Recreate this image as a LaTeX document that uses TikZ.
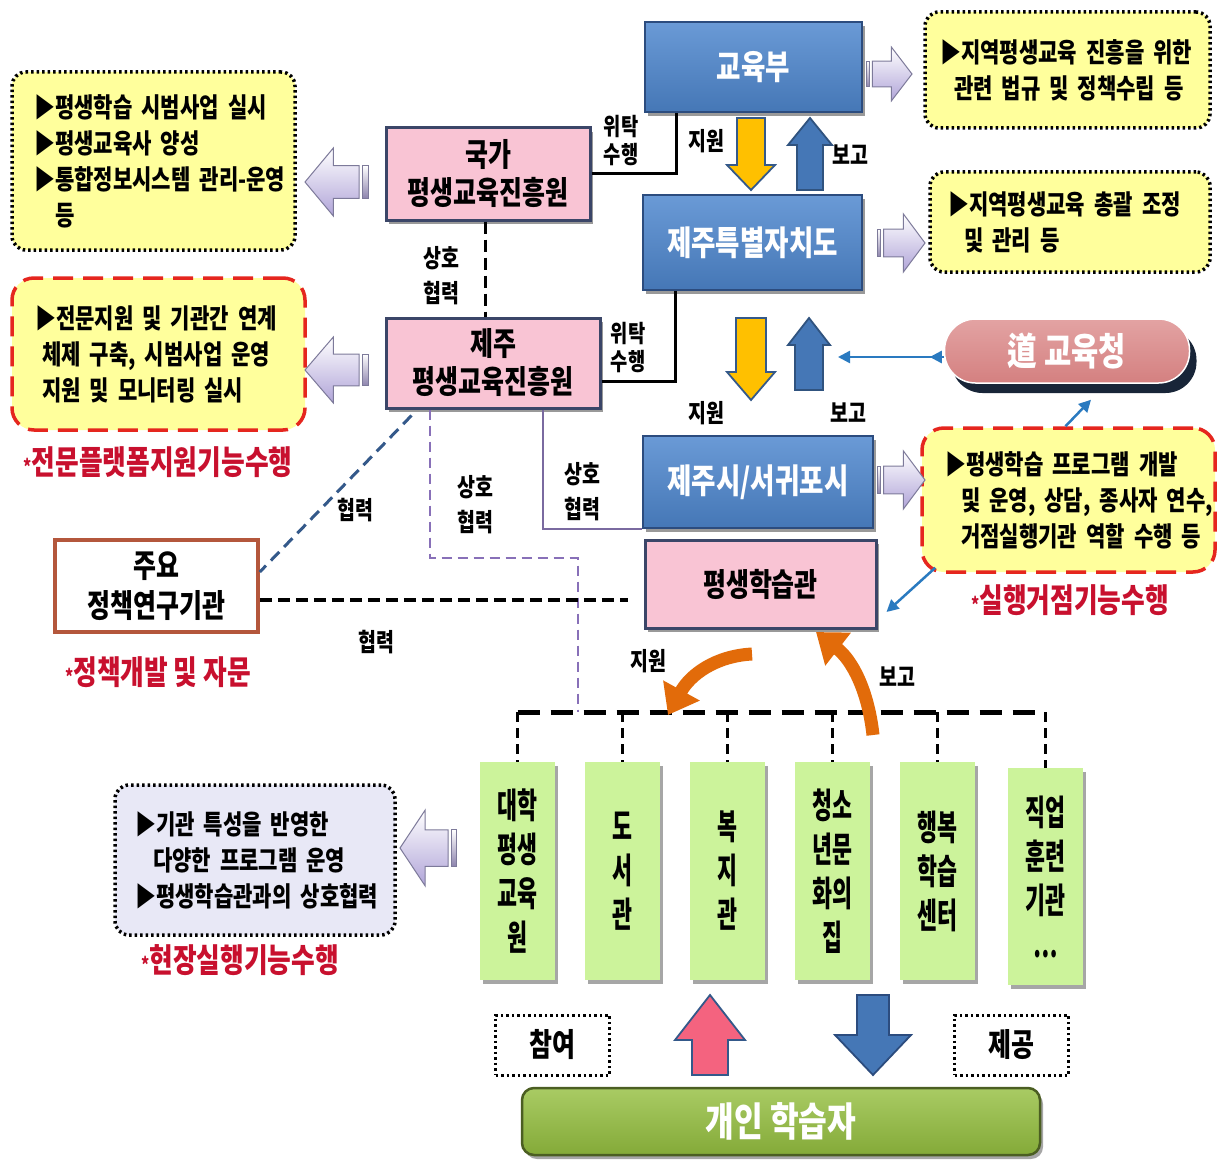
\documentclass[tikz,border=0pt]{standalone}
\usepackage{fontspec}
\newfontfamily\kr[FakeStretch=0.78]{Noto Sans CJK KR}
\newfontfamily\krc[FakeStretch=0.62]{Noto Sans CJK KR}
\usetikzlibrary{shadows,arrows.meta,calc,backgrounds}
\definecolor{bblue}{HTML}{4577B6}
\definecolor{bbluetop}{HTML}{6A9AD6}
\definecolor{bblued}{HTML}{2C4C7E}
\definecolor{pinkf}{HTML}{F9C4D4}
\definecolor{pinkd}{HTML}{3B4668}
\definecolor{yelf}{HTML}{FFFF9C}
\definecolor{redd}{HTML}{E5261E}
\definecolor{redt}{HTML}{C8102E}
\definecolor{grnf}{HTML}{CCF39B}
\definecolor{grnbar}{HTML}{84AA38}
\definecolor{grnbartop}{HTML}{A9CB64}
\definecolor{grnbard}{HTML}{4B5E22}
\definecolor{lavf}{HTML}{E8E8F6}
\definecolor{lavarr}{HTML}{B0A4D8}
\definecolor{lavd}{HTML}{7D7A9A}
\definecolor{edu}{HTML}{D48080}
\definecolor{edutop}{HTML}{E3A3A3}
\definecolor{edush}{HTML}{182538}
\definecolor{orng}{HTML}{E26B0A}
\definecolor{purp}{HTML}{8870B8}
\definecolor{purps}{HTML}{7A6AA0}
\definecolor{dblue}{HTML}{34598A}
\definecolor{tblue}{HTML}{2A7AC0}
\definecolor{yarr}{HTML}{FFC000}
\definecolor{parr}{HTML}{F4637F}
\definecolor{brn}{HTML}{B4573C}
\newcommand\fs[2]{\fontsize{#1}{#2}\selectfont}
% vertical block arrow: cx, ytail, ybase, ytip, shaft half, head half, fill, draw
\newcommand\vblk[8]{%
  \filldraw[fill=#7,draw=#8,line width=1.8pt,line join=miter]
    (#1-#5,#2) -- (#1-#5,#3) -- (#1-#6,#3) -- (#1,#4) -- (#1+#6,#3) -- (#1+#5,#3) -- (#1+#5,#2) -- cycle;}
% lavender striped block arrow: tip x, centre y, direction, length, half height
\newcommand\lavarrow[5]{%
  \begin{scope}[shift={(#1,#2)},xscale=#3]
    \shade[top color=white,bottom color=lavarr,draw=lavd,line width=1pt]
      (0,0) -- (-0.45*#4,-#5) -- (-0.45*#4,-0.48*#5) -- (-0.86*#4,-0.48*#5)
      -- (-0.86*#4,0.48*#5) -- (-0.45*#4,0.48*#5) -- (-0.45*#4,#5) -- cycle;
    \shade[top color=white,bottom color=lavarr!80!black,draw=lavd,line width=1pt]
      (-0.92*#4,-0.48*#5) rectangle (-#4,0.48*#5);
  \end{scope}}
\tikzset{
  bluebox/.style={draw=bblued, line width=2pt, top color=bbluetop, bottom color=bblue,
    text=white, font=\kr\bfseries\fs{34}{38}, inner sep=0pt,
    drop shadow={shadow xshift=3pt,shadow yshift=-4pt,opacity=0.4,fill=black}},
  pinkbox/.style={draw=pinkd, line width=3pt, fill=pinkf, align=center, inner sep=0pt,
    font=\kr\bfseries\fs{32}{38},
    drop shadow={shadow xshift=3pt,shadow yshift=-4pt,opacity=0.4,fill=black}},
  yelbox/.style={draw=black, line width=3.5pt, dash pattern=on 2.5pt off 3pt, fill=yelf,
    rounded corners=14pt, align=left, font=\kr\bfseries\fs{27}{36}},
  redbox/.style={draw=redd, line width=3.5pt, dash pattern=on 20pt off 10pt, fill=yelf,
    rounded corners=22pt, align=left, font=\kr\bfseries\fs{27}{36}},
  lavbox/.style={draw=black, line width=3.5pt, dash pattern=on 2.5pt off 3pt, fill=lavf,
    rounded corners=14pt, align=left, font=\kr\bfseries\fs{27}{36}},
  greenbox/.style={fill=grnf, minimum width=75pt, inner sep=0pt, align=center,
    font=\krc\bfseries\fs{35}{44},
    drop shadow={shadow xshift=3pt,shadow yshift=-4pt,opacity=0.35,fill=black}},
  tagbox/.style={draw=black, line width=3pt, dash pattern=on 2.5pt off 3pt,
    minimum width=114pt, minimum height=60pt, font=\kr\bfseries\fs{32}{34}},
  lbl/.style={font=\kr\bfseries\fs{25}{35}, align=center, inner sep=0pt},
  lbls/.style={font=\kr\bfseries\fs{24}{28}, align=center, inner sep=0pt},
  redlbl/.style={font=\kr\bfseries\fs{33}{36}, text=redt, inner sep=0pt},
  conn/.style={line width=3pt},
  bluetip/.style={tblue, line width=2.5pt},
}
\begin{document}
\begin{tikzpicture}[x=1pt,y=-1pt]
\useasboundingbox[fill=white] (0,0) rectangle (1222,1161);

% ---------- main boxes ----------
\node[bluebox, minimum width=217pt, minimum height=90pt] (gyb) at (753.5,67) {교육부};
\node[bluebox, minimum width=219pt, minimum height=95pt] (jdo) at (752.5,242.5) {제주특별자치도};
\node[bluebox, minimum width=230pt, minimum height=92pt] (jsi) at (758,482) {제주시/서귀포시};
\node[pinkbox, minimum width=231pt, minimum height=88pt, font=\kr\bfseries\fs{32}{36}] (pgh) at (760.5,584) {평생학습관};
\node[pinkbox, minimum width=204pt, minimum height=92pt] (nat) at (488,174) {국가\\평생교육진흥원};
\node[pinkbox, minimum width=214pt, minimum height=90pt] (jej) at (493,363) {제주\\평생교육진흥원};

\node[fill=edu, top color=edutop, bottom color=edu, draw=white, line width=1.5pt,
      rounded corners=31pt, minimum width=245pt, minimum height=64pt, text=white,
      font=\kr\bfseries\fs{38}{40},
      drop shadow={shadow xshift=7pt,shadow yshift=-10pt,opacity=1,fill=edush}] (doe) at (1067,351) {道 교육청};

% ---------- description boxes ----------
\node[yelbox, minimum width=285pt, minimum height=116pt, text width=255pt, inner xsep=15pt] (box1) at (1067.5,70)
  {\mbox{▶지역평생교육 진흥을 위한}\\\mbox{\hspace{14pt}관련 법규 및 정책수립 등}};
\node[yelbox, minimum width=280pt, minimum height=100pt, text width=244pt, inner xsep=18pt] (box2) at (1070,222)
  {\mbox{▶지역평생교육 총괄 조정}\\\mbox{\hspace{16pt}및 관리 등}};
\node[yelbox, minimum width=283pt, minimum height=178pt, text width=239pt, inner xsep=22pt] (box3) at (153.5,161)
  {\mbox{▶평생학습 시범사업 실시}\\\mbox{▶평생교육사 양성}\\\mbox{▶통합정보시스템 관리-운영}\\\mbox{\phantom{▶}등}};
\node[redbox, minimum width=293pt, minimum height=152pt, text width=247pt, inner xsep=23pt] (box4) at (158.5,354)
  {\mbox{▶전문지원 및 기관간 연계}\\\mbox{\hspace{7pt}체제 구축, 시범사업 운영}\\\mbox{\hspace{7pt}지원 및 모니터링 실시}};
\node[redbox, minimum width=293pt, minimum height=144pt, text width=247pt, inner xsep=23pt] (box5) at (1068.5,500)
  {\mbox{▶평생학습 프로그램 개발}\\\mbox{\hspace{16pt}및 운영, 상담, 종사자 연수,}\\\mbox{\hspace{16pt}거점실행기관 역할 수행 등}};
\node[lavbox, minimum width=280pt, minimum height=150pt, text width=240pt, inner xsep=20pt] (box6) at (255,860)
  {\mbox{▶기관 특성을 반영한}\\\mbox{\hspace{18pt}다양한 프로그램 운영}\\\mbox{▶평생학습관과의 상호협력}};

\node[draw=brn, line width=3.5pt, fill=white, minimum width=203pt, minimum height=92pt,
      align=center, font=\kr\bfseries\fs{32}{40}] (ris) at (156.5,586) {주요\\정책연구기관};

% ---------- red captions ----------
\node[redlbl] (cap4) at (158,462) {{\fs{20}{20}*}전문플랫폼지원기능수행};
\node[redlbl] (cap5) at (1070,600) {{\fs{20}{20}*}실행거점기능수행};
\node[redlbl] (capr) at (158,672) {{\fs{20}{20}*}정책개발 및 자문};
\node[redlbl] (cap6) at (240,960) {{\fs{20}{20}*}현장실행기능수행};

% ---------- green institutions ----------
\node[greenbox, minimum height=218pt] (g1) at (517.5,871) {대학\\평생\\교육\\원};
\node[greenbox, minimum height=218pt] (g2) at (622.5,871) {도\\서\\관};
\node[greenbox, minimum height=218pt] (g3) at (727.5,871) {복\\지\\관};
\node[greenbox, minimum height=218pt] (g4) at (832.5,871) {청소\\년문\\화의\\집};
\node[greenbox, minimum height=218pt] (g5) at (937.5,871) {행복\\학습\\센터};
\node[greenbox, minimum height=217pt] (g6) at (1045.5,876.5) {직업\\훈련\\기관\\…};

\node[tagbox] (cham) at (552.5,1045) {참여};
\node[tagbox] (jeg) at (1011.5,1045) {제공};

\node[draw=grnbard, line width=2.5pt, top color=grnbartop, bottom color=grnbar,
      rounded corners=12pt, minimum width=518pt, minimum height=67pt, text=white,
      font=\kr\bfseries\fs{40}{42},
      drop shadow={shadow xshift=3pt,shadow yshift=-4pt,opacity=0.35,fill=black}] (lrn) at (781,1121.5) {개인 학습자};

% ---------- connectors behind boxes ----------
\begin{scope}[on background layer]
  \draw[dblue, line width=3pt, dash pattern=on 12pt off 7pt] ($(nat.south)+(32,8)$) -- ($(pgh.west)+(0,-21)$);
\end{scope}

\draw[conn] (nat.east) -| ($(gyb.south west)+(32,0)$);
\draw[conn] ($(jej.east)+(0,18)$) -| ($(jdo.south west)+(33,0)$);
\draw[conn, dash pattern=on 12pt off 6pt] (nat.south -| 485,0) -- (jej.north -| 485,0);
\draw[dblue, line width=3pt, dash pattern=on 12pt off 7pt] ($(jej.south west)+(27,6)$) -- ($(ris.east)+(0,-14)$);
\draw[purp, line width=2.5pt, dash pattern=on 10pt off 6pt] (jej.south -| 430,0) -- (430,558) -- (578,558) -- (578,712);
\draw[purps, line width=2pt] (jej.south -| 543,0) |- (jsi.south west);
\draw[line width=3.5pt, dash pattern=on 12pt off 6pt] (ris.east |- 0,600) -- (628,600);

% bus line
\coordinate (bus) at (0,712);
\draw[line width=5pt, dash pattern=on 22pt off 11pt] (g1.north |- bus) -- (g6.north |- bus);
\foreach \g in {g1,g2,g3,g4,g5,g6}
  \draw[line width=2.5pt, dash pattern=on 10pt off 6pt] (\g.north |- bus) -- (\g.north);

% ---------- block arrows ----------
\vblk{751}{118}{165}{190}{14}{24}{yarr}{dblue}
\vblk{810}{190}{145}{118}{13}{22}{bblue}{bblue!70!black}
\vblk{751}{318}{372}{400}{15}{24}{yarr}{dblue}
\vblk{809}{390}{345}{318}{14}{21}{bblue}{bblue!70!black}
\vblk{710}{1075}{1040}{995}{18}{35}{parr}{dblue}
\vblk{873}{995}{1035}{1075}{16}{38}{bblue}{bblued}

\lavarrow{912}{74}{1}{46}{27}
\lavarrow{925}{243}{1}{48}{29}
\lavarrow{925}{480}{1}{48}{29}
\lavarrow{305}{182}{-1}{63}{34}
\lavarrow{305}{370}{-1}{63}{33}
\lavarrow{400}{848}{-1}{56}{38}

% orange curved arrows
\draw[orng, line width=13pt, -{Triangle[width=40pt,length=28pt]}]
  (752,654) .. controls (715,656) and (690,675) .. (668,715);
\draw[orng, line width=13pt, -{Triangle[width=40pt,length=28pt]}]
  (873,735) .. controls (868,690) and (852,660) .. (816,632);

% thin blue arrows
\coordinate (dbl) at (838,357);
\draw[bluetip, {Triangle[width=12pt,length=12pt]}-{Triangle[width=12pt,length=12pt]}] (dbl) -- (dbl -| doe.west) -- ++(-14,0);
\draw[bluetip, -{Triangle[width=12pt,length=12pt]}] ($(box5.north)+(-3,0)$) -- ($(doe.south)+(24,16)$);
\draw[bluetip, -{Triangle[width=12pt,length=12pt]}] ($(box5.south west)+(15,-6)$) -- ($(pgh.east)+(9,28)$);

% ---------- labels ----------
\node[lbls] (l1) at (621,141) {위탁\\수행};
\node[lbl] (l2) at (706,141) {지원};
\node[lbl] (l3) at (850,155) {보고};
\node[lbls] (l4) at (628,348) {위탁\\수행};
\node[lbl] (l5) at (706,413) {지원};
\node[lbl] (l6) at (848,413) {보고};
\node[lbl] (l7) at (441,276) {상호\\협력};
\node[lbl] (l8) at (475,505) {상호\\협력};
\node[lbl] (l9) at (582,492) {상호\\협력};
\node[lbl] (l10) at (355,510) {협력};
\node[lbl] (l11) at (376,642) {협력};
\node[lbl] (l12) at (648,661) {지원};
\node[lbl] (l13) at (897,677) {보고};
\end{tikzpicture}
\end{document}
